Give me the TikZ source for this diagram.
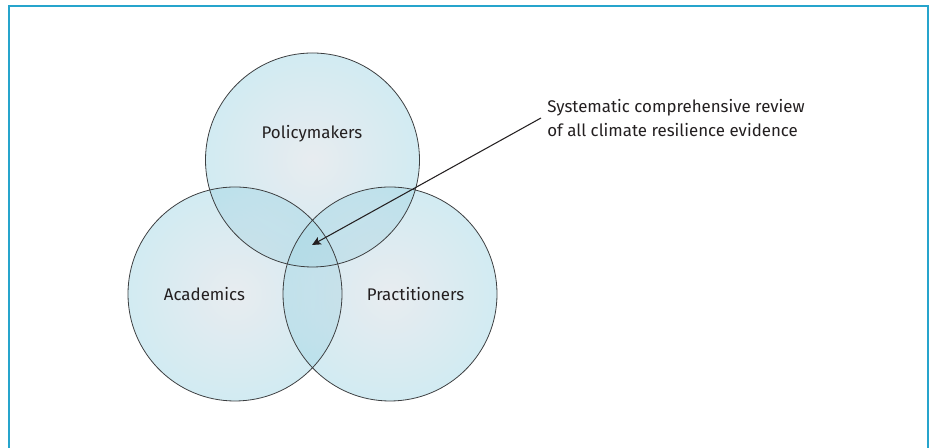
\documentclass[tikz,border=0pt]{standalone}
\usepackage{fontspec}
\usetikzlibrary{arrows.meta}
\setmainfont{Fira Sans}
\definecolor{frameblue}{RGB}{38,164,204}
\definecolor{venncore}{RGB}{209,217,225}
\definecolor{vennrim}{RGB}{165,215,229}
\definecolor{vennline}{RGB}{60,62,64}
\definecolor{inktext}{RGB}{35,31,32}
\begin{document}
\begin{tikzpicture}[>={Stealth[length=5pt,width=4.6pt,inset=1pt]},
  venn/.style={circle, minimum size=4.28cm, inner sep=0pt, inner color=venncore, outer color=vennrim, fill opacity=0.5},
  rim/.style={draw=vennline, line width=0.45pt},
  group/.style={font=\fontsize{9.6}{11.5}\selectfont, text=inktext}]
\useasboundingbox (0,0) rectangle (18.62,8.96);
\draw[frameblue, line width=1.1pt] (0.18,0) -- (0.18,8.84) -- (18.56,8.84) -- (18.56,0);

\node[venn] (policy) at (6.25,5.76) {};
\node[venn] (academia) at (4.70,3.08) {};
\node[venn] (practice) at (7.80,3.08) {};
\foreach \n in {policy,academia,practice}
  \draw[rim] (\n.center) circle (2.14);

\node[group] (policylbl) at (6.24,6.28) {Policymakers};
\node[group] (academialbl) at (4.09,3.08) {Academics};
\node[group] (practicelbl) at (8.31,3.08) {Practitioners};

\node[group, font=\fontsize{9.6}{13.6}\selectfont, anchor=west, align=left, inner sep=0.12cm] (note) at (10.82,6.6)
  {Systematic comprehensive review\\of all climate resilience evidence};
\coordinate (core) at (6.24,4.06);
\draw[->, inktext, line width=0.6pt] (note.west) -- (core);
\end{tikzpicture}
\end{document}
